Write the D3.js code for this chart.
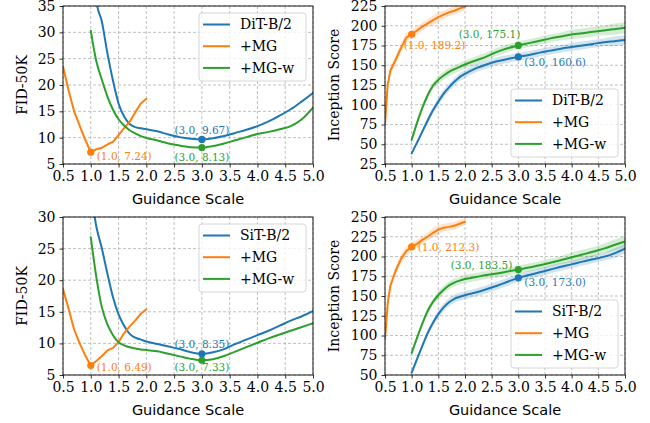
<!DOCTYPE html>
<html>
<head>
<meta charset="utf-8">
<script src="https://cdn.jsdelivr.net/npm/d3@7"></script>
<style>
  body { margin: 0; background: #fff; }
  svg { display: block; }
</style>
</head>
<body>
<svg id="chart" width="650" height="423"></svg>
<script>
// guidance scale grids
const scalesBase = [1.0, 1.1, 1.2, 1.3, 1.4, 1.5, 1.6, 1.7, 1.8, 1.9, 2.0, 2.2, 2.4, 2.6, 2.8, 3.0, 3.2, 3.4, 3.6, 3.8, 4.0, 4.2, 4.4, 4.6, 4.8, 5.0];
const scalesMG = [0.5, 0.6, 0.7, 0.8, 0.9, 1.0, 1.1, 1.2, 1.3, 1.4, 1.5, 1.6, 1.7, 1.8, 1.9, 2.0];
const scalesMGis = [0.5, 0.55, 0.6, 0.7, 0.8, 0.9, 1.0, 1.1, 1.2, 1.3, 1.4, 1.5, 1.6, 1.7, 1.8, 1.9, 2.0];

// DiT-B/2 FID
const ditFidBase = [50, 36, 32, 26, 20.8, 16.5, 14, 12.6, 12, 11.8, 11.6, 11.2, 10.6, 10.1, 9.8, 9.67, 9.9, 10.3, 10.9, 11.5, 12.2, 13.1, 14.2, 15.4, 16.9, 18.5];
const ditFidMG = [23.5, 19, 15, 12.3, 9.6, 7.24, 7.8, 8.1, 8.7, 9.2, 10.5, 11.8, 13.0, 14.8, 16.5, 17.4];
const ditFidMGw = [30.3, 24.5, 21, 17.8, 15.3, 13.5, 12.3, 11.4, 10.8, 10.3, 9.95, 9.45, 8.9, 8.5, 8.2, 8.13, 8.4, 8.9, 9.5, 10.1, 10.7, 11.1, 11.6, 12.2, 13.5, 15.7];

// DiT-B/2 Inception Score (mean and spread)
const ditIsBase = [38.5, 52, 66, 80, 93, 104, 114, 122, 129, 135, 139, 146, 151, 155, 158, 160.6, 163, 166, 168.5, 171, 173, 175, 177, 179, 180.5, 182];
const ditIsBaseStd = [2, 3, 3, 4, 4, 5, 5, 5, 5, 5, 5, 5, 5, 5, 5, 5, 5, 5, 5, 5, 5, 5, 5, 5, 6, 6];
const ditIsMG = [75, 125, 143, 157, 172, 185, 189.2, 194, 199, 203, 207, 211, 214, 217, 219, 222, 224];
const ditIsMGStd = [3, 4, 5, 5, 6, 6, 5, 5, 5, 5, 6, 6, 5, 5, 5, 5, 4];
const ditIsMGw = [55.4, 77, 96, 112, 124, 131.5, 137, 141.5, 145, 148, 151, 156, 161, 167, 171.5, 175.1, 178, 181, 184, 186.5, 189, 190.5, 192.5, 194, 195.7, 197.5];
const ditIsMGwStd = [2, 3, 3, 4, 4, 5, 5, 5, 5, 5, 5, 5, 5, 5, 5, 5, 5, 5, 5, 5, 6, 6, 6, 6, 7, 7];

// SiT-B/2 FID
const sitFidBase = [34, 28.5, 25, 21, 17.3, 14.6, 12.8, 11.5, 10.9, 10.6, 10.3, 9.9, 9.5, 9.1, 8.6, 8.35, 8.6, 9.1, 9.9, 10.6, 11.3, 12.0, 12.8, 13.6, 14.3, 15.1];
const sitFidMG = [18.6, 15.5, 12.2, 10, 8.1, 6.49, 7.2, 8.0, 8.9, 9.3, 10.2, 11.6, 12.7, 13.6, 14.7, 15.4];
const sitFidMGw = [26.8, 20.5, 15.7, 13.0, 11.3, 10.2, 9.7, 9.4, 9.2, 9.05, 8.95, 8.75, 8.35, 7.95, 7.55, 7.33, 7.5, 8.0, 8.7, 9.4, 10.1, 10.8, 11.4, 12.0, 12.6, 13.2];

// SiT-B/2 Inception Score (mean and spread)
const sitIsBase = [53, 70, 87, 103, 116, 127, 135.5, 142, 146.5, 149, 151, 154.5, 158.5, 163, 168, 173, 176.5, 180, 183.5, 187, 190, 193.5, 196.5, 199.5, 204, 210];
const sitIsBaseStd = [2, 3, 3, 4, 4, 5, 5, 5, 5, 5, 5, 5, 5, 5, 5, 5, 5, 5, 5, 5, 5, 5, 5, 5, 6, 6];
const sitIsMG = [95, 140, 163, 182, 197, 207, 212.3, 216, 221, 225, 230, 234, 236.5, 237.5, 239, 241.5, 244];
const sitIsMGStd = [3, 4, 5, 5, 6, 6, 5, 5, 5, 5, 6, 6, 5, 5, 5, 5, 4];
const sitIsMGw = [78, 97, 115, 131, 142.5, 151, 158, 163.5, 167, 169.5, 171.5, 174, 176.5, 178.5, 181, 183.5, 186, 189, 192, 195.5, 199, 202.5, 206, 210, 214.5, 219];
const sitIsMGwStd = [2, 3, 3, 4, 4, 5, 5, 5, 5, 5, 5, 5, 5, 5, 5, 5, 5, 5, 5, 5, 6, 6, 6, 6, 7, 7];

// axis ticks
const xTicks = [0.5, 1.0, 1.5, 2.0, 2.5, 3.0, 3.5, 4.0, 4.5, 5.0];
const ditFidTicks = [5, 10, 15, 20, 25, 30, 35];
const ditIsTicks = [25, 50, 75, 100, 125, 150, 175, 200, 225];
const sitFidTicks = [5, 10, 15, 20, 25, 30];
const sitIsTicks = [50, 75, 100, 125, 150, 175, 200, 225, 250];

const BLUE = "#1f77b4", ORANGE = "#ff7f0e", GREEN = "#2ca02c";
const SERIF = "'DejaVu Serif', serif";
const SANS = "'DejaVu Sans', sans-serif";

const zip = (xs, ys, sd) => xs.map((x, i) => ({ x: x, y: ys[i], sd: sd ? sd[i] : 0 }));

const panels = [
    {
        box: { x: 63, y: 6, w: 250, h: 158 }, ylabel: "FID-50K", ylabelX: 27,
        yTicks: ditFidTicks, model: "DiT-B/2", legendAt: "top", band: false,
        series: [
            { color: BLUE, data: zip(scalesBase, ditFidBase), smooth: true },
            { color: ORANGE, data: zip(scalesMG, ditFidMG), smooth: false },
            { color: GREEN, data: zip(scalesBase, ditFidMGw), smooth: true },
        ],
        notes: [
            { x: 3.0, y: 9.67, color: BLUE, anchor: "middle", dx: 0, dy: -9.5 },
            { x: 3.0, y: 8.13, color: GREEN, anchor: "middle", dx: 0, dy: 9.5 },
            { x: 1.0, y: 7.24, color: ORANGE, anchor: "start", dx: 6, dy: 4 },
        ],
    },
    {
        box: { x: 385, y: 6, w: 240, h: 158 }, ylabel: "Inception Score", ylabelX: 339,
        yTicks: ditIsTicks, model: "DiT-B/2", legendAt: "bottom", band: true,
        series: [
            { color: BLUE, data: zip(scalesBase, ditIsBase, ditIsBaseStd), smooth: true },
            { color: ORANGE, data: zip(scalesMGis, ditIsMG, ditIsMGStd), smooth: false },
            { color: GREEN, data: zip(scalesBase, ditIsMGw, ditIsMGwStd), smooth: true },
        ],
        notes: [
            { x: 1.0, y: 189.2, color: ORANGE, anchor: "start", dx: -8, dy: 11 },
            { x: 3.0, y: 175.1, color: GREEN, anchor: "end", dx: 2, dy: -11 },
            { x: 3.0, y: 160.6, color: BLUE, anchor: "start", dx: 6, dy: 5 },
        ],
    },
    {
        box: { x: 63, y: 217, w: 250, h: 158 }, ylabel: "FID-50K", ylabelX: 27,
        yTicks: sitFidTicks, model: "SiT-B/2", legendAt: "top", band: false,
        series: [
            { color: BLUE, data: zip(scalesBase, sitFidBase), smooth: true },
            { color: ORANGE, data: zip(scalesMG, sitFidMG), smooth: false },
            { color: GREEN, data: zip(scalesBase, sitFidMGw), smooth: true },
        ],
        notes: [
            { x: 3.0, y: 8.35, color: BLUE, anchor: "middle", dx: 0, dy: -9.8 },
            { x: 3.0, y: 7.33, color: GREEN, anchor: "middle", dx: 0, dy: 7.5 },
            { x: 1.0, y: 6.49, color: ORANGE, anchor: "start", dx: 6, dy: 2 },
        ],
    },
    {
        box: { x: 385, y: 217, w: 240, h: 158 }, ylabel: "Inception Score", ylabelX: 339,
        yTicks: sitIsTicks, model: "SiT-B/2", legendAt: "bottom", band: true,
        series: [
            { color: BLUE, data: zip(scalesBase, sitIsBase, sitIsBaseStd), smooth: true },
            { color: ORANGE, data: zip(scalesMGis, sitIsMG, sitIsMGStd), smooth: false },
            { color: GREEN, data: zip(scalesBase, sitIsMGw, sitIsMGwStd), smooth: true },
        ],
        notes: [
            { x: 1.0, y: 212.3, color: ORANGE, anchor: "start", dx: 6, dy: 1 },
            { x: 3.0, y: 183.5, color: GREEN, anchor: "end", dx: -6, dy: -4.5 },
            { x: 3.0, y: 173.0, color: BLUE, anchor: "start", dx: 6, dy: 4 },
        ],
    },
];

const svg = d3.select("#chart");

panels.forEach((p, pi) => {
    const b = p.box;
    const x = d3.scaleLinear().domain([0.5, 5.0]).range([0, b.w]);
    const yDom = d3.extent(p.yTicks);
    const y = d3.scaleLinear().domain(yDom).range([b.h, 0]);

    const g = svg.append("g").attr("transform", `translate(${b.x},${b.y})`);

    svg.append("clipPath").attr("id", "clip" + pi)
        .append("rect").attr("width", b.w).attr("height", b.h);

    // grid
    const grid = g.append("g").attr("stroke", "#b0b0b0").attr("stroke-width", 0.8)
        .attr("stroke-dasharray", "3,2");
    grid.selectAll(".gx").data(xTicks).enter().append("line")
        .attr("x1", d => x(d)).attr("x2", d => x(d)).attr("y1", 0).attr("y2", b.h);
    grid.selectAll(".gy").data(p.yTicks).enter().append("line")
        .attr("y1", d => y(d)).attr("y2", d => y(d)).attr("x1", 0).attr("x2", b.w);

    const plot = g.append("g").attr("clip-path", `url(#clip${pi})`);

    // bands
    if (p.band) {
        p.series.forEach(s => {
            const area = d3.area()
                .x(d => x(d.x)).y0(d => y(d.y - d.sd)).y1(d => y(d.y + d.sd))
                .curve(s.smooth ? d3.curveMonotoneX : d3.curveLinear);
            plot.append("path").datum(s.data)
                .attr("d", area).attr("fill", s.color).attr("opacity", 0.2);
        });
    }

    // lines
    p.series.forEach(s => {
        const line = d3.line().x(d => x(d.x)).y(d => y(d.y))
            .curve(s.smooth ? d3.curveMonotoneX : d3.curveLinear);
        plot.append("path").datum(s.data)
            .attr("d", line).attr("fill", "none")
            .attr("stroke", s.color).attr("stroke-width", 2)
            .attr("stroke-linejoin", "round").attr("stroke-linecap", "round");
    });

    // marked points + labels
    p.notes.forEach(n => {
        g.append("circle").attr("cx", x(n.x)).attr("cy", y(n.y)).attr("r", 3.6)
            .attr("fill", n.color);
        g.append("text")
            .attr("x", x(n.x) + n.dx).attr("y", y(n.y) + n.dy)
            .attr("dy", "0.35em")
            .attr("text-anchor", n.anchor)
            .attr("fill", n.color)
            .style("font-family", SERIF).style("font-size", "10.5px")
            .text(`(${d3.format(".1f")(n.x)}, ${n.y >= 100 ? d3.format(".1f")(n.y) : d3.format(".2f")(n.y)})`);
    });

    // axes
    const xAxis = g.append("g").attr("transform", `translate(0,${b.h})`)
        .call(d3.axisBottom(x).tickValues(xTicks).tickFormat(d3.format(".1f")).tickSizeOuter(0).tickSize(3.5).tickPadding(4));
    const yAxis = g.append("g")
        .call(d3.axisLeft(y).tickValues(p.yTicks).tickFormat(d3.format("d")).tickSizeOuter(0).tickSize(3.5).tickPadding(4));
    [xAxis, yAxis].forEach(a => {
        a.select(".domain").remove();
        a.selectAll("text").style("font-family", SERIF).style("font-size", "14px").attr("fill", "#000");
        a.selectAll("line").attr("stroke", "#000").attr("stroke-width", 0.8);
    });

    // spines
    g.append("rect").attr("width", b.w).attr("height", b.h)
        .attr("fill", "none").attr("stroke", "#000").attr("stroke-width", 0.9);

    // axis titles
    g.append("text").attr("x", b.w / 2).attr("y", b.h + 40)
        .attr("text-anchor", "middle")
        .style("font-family", SANS).style("font-size", "14.5px")
        .text("Guidance Scale");
    svg.append("text")
        .attr("transform", `translate(${p.ylabelX},${b.y + b.h / 2}) rotate(-90)`)
        .attr("text-anchor", "middle")
        .style("font-family", SERIF).style("font-size", "14px")
        .text(p.ylabel);

    // legend
    const lw = 107, lh = 68;
    const lx = b.w - 7 - lw;
    const ly = p.legendAt === "top" ? 7 : b.h - 7 - lh;
    const leg = g.append("g").attr("transform", `translate(${lx},${ly})`);
    leg.append("rect").attr("width", lw).attr("height", lh).attr("rx", 3)
        .attr("fill", "#fff").attr("fill-opacity", 0.8)
        .attr("stroke", "#cccccc").attr("stroke-width", 0.8);
    const names = [p.model, "+MG", "+MG-w"];
    p.series.forEach((s, i) => {
        const cy = 11.5 + i * 21.7;
        leg.append("line").attr("x1", 4).attr("x2", 31).attr("y1", cy).attr("y2", cy)
            .attr("stroke", s.color).attr("stroke-width", 2);
        leg.append("text").attr("x", 41).attr("y", cy).attr("dy", "0.35em")
            .style("font-family", SERIF).style("font-size", "14px")
            .text(names[i]);
    });
});
</script>
</body>
</html>
